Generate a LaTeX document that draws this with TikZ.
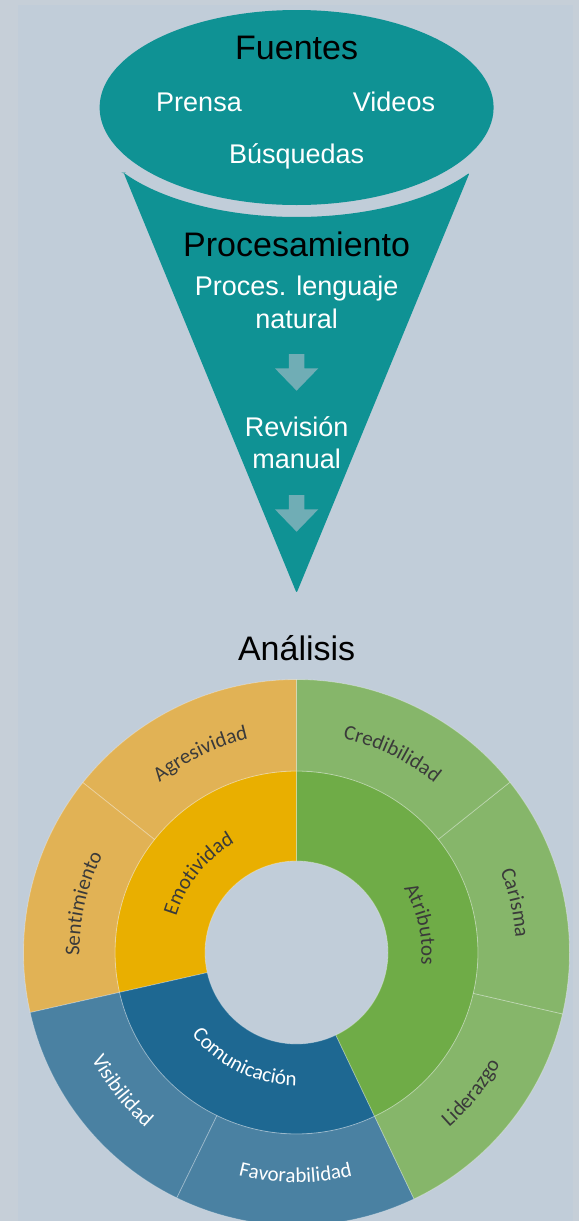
\documentclass[tikz,border=0pt]{standalone}
\usepackage{fontspec}
\setmainfont{Liberation Sans}
\newfontfamily\sunfont{Carlito}
\usetikzlibrary{calc,decorations.text}
\definecolor{bgout}{HTML}{C6CFD8}
\definecolor{bgin}{HTML}{C1CDD9}
\definecolor{tealc}{HTML}{0F9294}
\definecolor{arrowc}{HTML}{70ADB5}
\definecolor{emoin}{HTML}{E9AF00}
\definecolor{emoout}{HTML}{E1B255}
\definecolor{atrin}{HTML}{6FAC47}
\definecolor{atrout}{HTML}{86B66A}
\definecolor{comin}{HTML}{1E6892}
\definecolor{comout}{HTML}{4A81A2}
\definecolor{lbldark}{HTML}{3A3A3A}
\newcommand\sunlabelfont{\sunfont\fontsize{21}{25}\selectfont}
% style, start angle, end angle, inner r, outer r
\newcommand\sunsector[5]{\filldraw[#1] ($(C)+(#2:#4)$) arc[start angle=#2,end angle=#3,radius=#4pt] -- ($(C)+(#3:#5)$) arc[start angle=#3,end angle=#2,radius=#5pt] -- cycle;}
% mid angle, radius, colour, text
\newcommand\cwlabel[4]{\path[decorate,decoration={text along path,text align=center,text color=#3,text={|\sunlabelfont|#4}}] ($(C)+({#1+70}:#2)$) arc[start angle={#1+70},end angle={#1-70},radius=#2pt];}
\newcommand\ccwlabel[4]{\path[decorate,decoration={text along path,text align=center,text color=#3,text={|\sunlabelfont|#4}}] ($(C)+({#1-70}:#2)$) arc[start angle={#1-70},end angle={#1+70},radius=#2pt];}
\begin{document}
\begin{tikzpicture}[x=1pt,y=1pt,
  hdr/.style={anchor=base,inner sep=0pt,text=black,font=\fontsize{34}{40}\selectfont},
  wtxt/.style={anchor=base,inner sep=0pt,text=white,font=\fontsize{27}{32}\selectfont},
  divider/.style={draw=white,draw opacity=0.3,line width=0.8pt}]
\useasboundingbox (0,0) rectangle (579,-1221);
\clip (0,0) rectangle (579,-1221);
\fill[bgout] (0,0) rectangle (579,-1221);
\fill[bgin] (18,-5) rectangle (573.3,-1221);

% Fuentes ellipse
\fill[tealc] (296.6,-107.5) ellipse[x radius=197pt, y radius=97.5pt];
% funnel
\fill[tealc, rounded corners=2pt] (123.6,-172.7) -- (296.6,-593) -- (469.6,-172.7)
  arc[start angle=-34.13, end angle=-145.87, x radius=209pt, y radius=100.9pt] -- cycle;

% texts
\node[hdr] (fuentes) at (296.6,-59.3) {Fuentes};
\node[wtxt] (prensa) at (199,-111.7) {Prensa};
\node[wtxt] (videos) at (394,-111.7) {Videos};
\node[wtxt] (busq) at (296.6,-163.3) {Búsquedas};
\node[hdr] (proc) at (296.6,-256.7) {Procesamiento};
\node[wtxt] (pln1) at (296.6,-295) {Proces. lenguaje};
\node[wtxt] (pln2) at (296.6,-328.3) {natural};
\node[wtxt] (rev1) at (296.6,-436) {Revisión};
\node[wtxt] (rev2) at (296.6,-468.3) {manual};
\node[hdr] (analisis) at (296.6,-660.7) {Análisis};

% block arrows
\fill[arrowc] (288.8,-354) -- (304.4,-354) -- (304.4,-368.3) -- (318.3,-368.3) -- (296.6,-390.7) -- (274.9,-368.3) -- (288.8,-368.3) -- cycle;
\fill[arrowc] (288.8,-495) -- (304.4,-495) -- (304.4,-509.3) -- (318.3,-509.3) -- (296.6,-531.7) -- (274.9,-509.3) -- (288.8,-509.3) -- cycle;

% sunburst
\coordinate (C) at (296.5,-952.5);
\sunsector{fill=emoin,divider}{90}{192.7}{91.5}{181.5}
\sunsector{fill=comin,divider}{192.7}{295.5}{91.5}{181.5}
\sunsector{fill=atrin,divider}{295.5}{450}{91.5}{181.5}
\sunsector{fill=emoout,divider}{90}{141.5}{181.5}{273}
\sunsector{fill=emoout,divider}{141.5}{192.7}{181.5}{273}
\sunsector{fill=comout,divider}{192.7}{244}{181.5}{273}
\sunsector{fill=comout,divider}{244}{295.5}{181.5}{273}
\sunsector{fill=atrout,divider}{295.5}{347}{181.5}{273}
\sunsector{fill=atrout,divider}{347}{398.6}{181.5}{273}
\sunsector{fill=atrout,divider}{398.6}{450}{181.5}{273}

\cwlabel{115.75}{218.5}{lbldark}{Agresividad}
\cwlabel{64.3}{218.5}{lbldark}{Credibilidad}
\cwlabel{12.8}{219.5}{lbldark}{Carisma}
\cwlabel{167.1}{217}{lbldark}{Sentimiento}
\cwlabel{141.4}{125.5}{lbldark}{Emotividad}
\cwlabel{12.75}{125}{lbldark}{Atributos}
\ccwlabel{244}{133}{white}{Comunicación}
\ccwlabel{218.4}{231}{white}{Visibilidad}
\ccwlabel{269.75}{230}{white}{Favorabilidad}
\ccwlabel{321.25}{232}{lbldark}{Liderazgo}
\end{tikzpicture}
\end{document}
